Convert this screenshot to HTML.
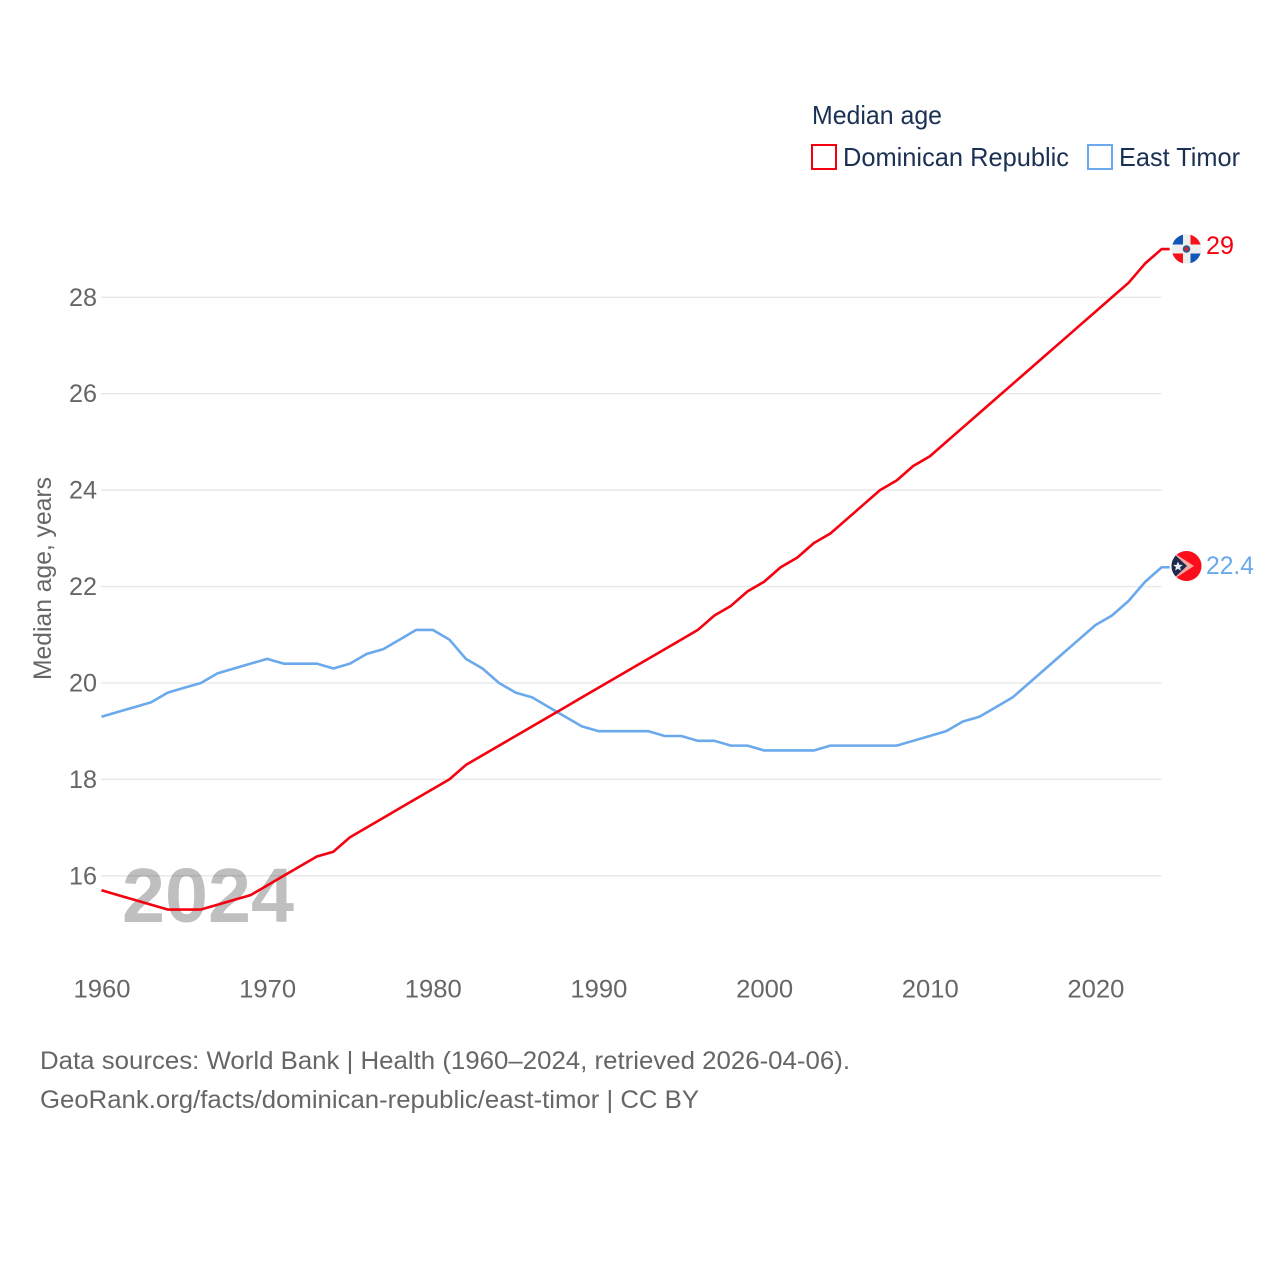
<!DOCTYPE html>
<html lang="en">
<head>
<meta charset="utf-8">
<title>Median age: Dominican Republic and East Timor</title>
<style>
html,body{margin:0;padding:0;background:#fff;}
svg{display:block;}
text{font-family:"Liberation Sans",sans-serif;}
</style>
</head>
<body>
<svg id="chart" xmlns="http://www.w3.org/2000/svg" width="1280" height="1280" viewBox="0 0 1280 1280">
  <rect width="1280" height="1280" fill="#fff"/>
  <g id="grid"></g>
  <g id="yticks"></g>
  <g id="xticks"></g>
  <text x="122" y="922" font-size="77" font-weight="700" fill="rgba(0,0,0,0.25)" textLength="172" lengthAdjust="spacingAndGlyphs">2024</text>
  <text transform="translate(51,578.5) rotate(-90)" text-anchor="middle" font-size="25" fill="#666" textLength="203" lengthAdjust="spacingAndGlyphs">Median age, years</text>
  <g id="series"></g>

  <defs>
    <clipPath id="dr-clip"><circle cx="1186.5" cy="249" r="14.8"/></clipPath>
    <clipPath id="tl-clip"><circle cx="1186.5" cy="566" r="15"/></clipPath>
  </defs>
  <g clip-path="url(#dr-clip)">
    <rect x="1171" y="234" width="31" height="30" fill="#eeeeee"/>
    <rect x="1171" y="234" width="12" height="10.5" fill="#1257b5"/>
    <rect x="1190.5" y="234" width="11.5" height="10.5" fill="#f5101c"/>
    <rect x="1171" y="253.5" width="12" height="11" fill="#f5101c"/>
    <rect x="1190.5" y="253.5" width="11.5" height="11" fill="#1257b5"/>
    <circle cx="1186.5" cy="249" r="3.8" fill="#2b5a8c"/>
    <circle cx="1186.5" cy="249" r="1.9" fill="#e0202a"/>
  </g>
  <g clip-path="url(#tl-clip)">
    <rect x="1171" y="551" width="31" height="30" fill="#fb0d1b"/>
    <polygon points="1171,551 1194,566 1171,581" fill="#f9a8a0"/>
    <polygon points="1171,551 1187,566 1171,581" fill="#1b2a4e"/>
    <polygon points="1178,561.5 1179.3,564.8 1182.8,565 1180,567.2 1181,570.6 1178,568.7 1175,570.6 1176,567.2 1173.2,565 1176.7,564.8" fill="#eee"/>
  </g>
  <text id="label-dr" x="1206" y="254" font-size="25" fill="#f5000f" textLength="28" lengthAdjust="spacingAndGlyphs">29</text>
  <text id="label-tl" x="1206" y="574" font-size="25" fill="#6aa9ec" textLength="48" lengthAdjust="spacingAndGlyphs">22.4</text>

  <g>
    <text x="812" y="124" font-size="26" fill="#1a3153" textLength="130" lengthAdjust="spacingAndGlyphs">Median age</text>
    <rect x="812" y="145" width="24" height="24" fill="#fff" stroke="#f5000f" stroke-width="2"/>
    <text x="843" y="166" font-size="26" fill="#1a3153" textLength="226" lengthAdjust="spacingAndGlyphs">Dominican Republic</text>
    <rect x="1088" y="145" width="24" height="24" fill="#fff" stroke="#6aa9ec" stroke-width="2"/>
    <text x="1119" y="166" font-size="26" fill="#1a3153" textLength="121" lengthAdjust="spacingAndGlyphs">East Timor</text>
  </g>

  <text x="40" y="1069" font-size="25" fill="#666" textLength="810" lengthAdjust="spacingAndGlyphs">Data sources: World Bank | Health (1960–2024, retrieved 2026-04-06).</text>
  <text x="40" y="1108" font-size="25" fill="#666" textLength="659" lengthAdjust="spacingAndGlyphs">GeoRank.org/facts/dominican-republic/east-timor | CC BY</text>
</svg>
<script>
const startYear = 1960;
const xTickLabels = [1960, 1970, 1980, 1990, 2000, 2010, 2020];
const yTickLabels = [16, 18, 20, 22, 24, 26, 28];
const dominicanRepublic = [15.7,15.6,15.5,15.4,15.3,15.3,15.3,15.4,15.5,15.6,15.8,16.0,16.2,16.4,16.5,16.8,17.0,17.2,17.4,17.6,17.8,18.0,18.3,18.5,18.7,18.9,19.1,19.3,19.5,19.7,19.9,20.1,20.3,20.5,20.7,20.9,21.1,21.4,21.6,21.9,22.1,22.4,22.6,22.9,23.1,23.4,23.7,24.0,24.2,24.5,24.7,25.0,25.3,25.6,25.9,26.2,26.5,26.8,27.1,27.4,27.7,28.0,28.3,28.7,29.0];
const eastTimor = [19.3,19.4,19.5,19.6,19.8,19.9,20.0,20.2,20.3,20.4,20.5,20.4,20.4,20.4,20.3,20.4,20.6,20.7,20.9,21.1,21.1,20.9,20.5,20.3,20.0,19.8,19.7,19.5,19.3,19.1,19.0,19.0,19.0,19.0,18.9,18.9,18.8,18.8,18.7,18.7,18.6,18.6,18.6,18.6,18.7,18.7,18.7,18.7,18.7,18.8,18.9,19.0,19.2,19.3,19.5,19.7,20.0,20.3,20.6,20.9,21.2,21.4,21.7,22.1,22.4];

const NS = 'http://www.w3.org/2000/svg';
function xScale(year) { return 101.5 + (year - 1960) * 16.565; }
function yScale(v) { return 875.8 - (v - 16) * 48.21; }

const grid = document.getElementById('grid');
const yticks = document.getElementById('yticks');
const xticks = document.getElementById('xticks');
const seriesGroup = document.getElementById('series');

yTickLabels.forEach(function (v) {
  const line = document.createElementNS(NS, 'line');
  
  
  line.setAttribute('x1', 101);
  line.setAttribute('x2', 1161.5);
  line.setAttribute('y1', yScale(v));
  line.setAttribute('y2', yScale(v));
  line.setAttribute('stroke', '#e8e8e8');
  line.setAttribute('stroke-width', '1.4');
  grid.appendChild(line);

  const t = document.createElementNS(NS, 'text');
  
  
  t.setAttribute('x', 69);
  t.setAttribute('y', yScale(v) + 8.5);
  t.setAttribute('font-size', '25');
  t.setAttribute('fill', '#666');
  t.setAttribute('textLength', '28');
  t.setAttribute('lengthAdjust', 'spacingAndGlyphs');
  t.textContent = String(v);
  yticks.appendChild(t);
});

xTickLabels.forEach(function (y) {
  const t = document.createElementNS(NS, 'text');
  
  
  t.setAttribute('x', xScale(y) - 28);
  t.setAttribute('y', 997.5);
  t.setAttribute('font-size', '25');
  t.setAttribute('fill', '#666');
  t.setAttribute('textLength', '57');
  t.setAttribute('lengthAdjust', 'spacingAndGlyphs');
  t.textContent = String(y);
  xticks.appendChild(t);
});

function drawSeries(values, color, name, endLabelId) {
  const pts = values.map(function (v, i) { return xScale(startYear + i) + ',' + yScale(v); });
  const last = values[values.length - 1];
  pts.push((xScale(startYear + values.length - 1) + 8) + ',' + yScale(last));
  const line = document.createElementNS(NS, 'polyline');
  
  
  line.setAttribute('points', pts.join(' '));
  line.setAttribute('fill', 'none');
  line.setAttribute('stroke', color);
  line.setAttribute('stroke-width', '2.6');
  line.setAttribute('stroke-linejoin', 'round');
  seriesGroup.appendChild(line);
  document.getElementById(endLabelId).textContent = String(last);
}
drawSeries(eastTimor, '#6aa9ec', 'east-timor-line', 'label-tl');
drawSeries(dominicanRepublic, '#f5000f', 'dominican-republic-line', 'label-dr');
</script>
</body>
</html>
